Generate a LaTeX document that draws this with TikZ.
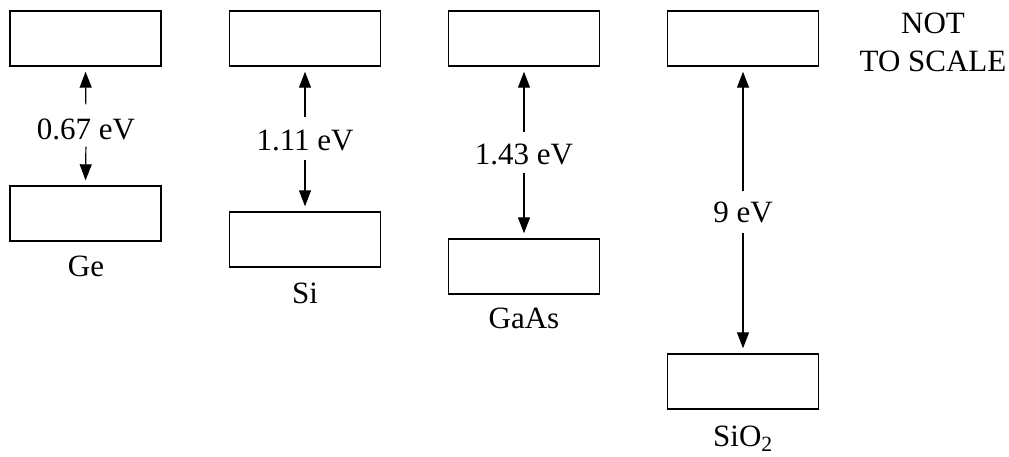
\documentclass[tikz,border=0pt]{standalone}
\usepackage{fontspec}
\setmainfont{Liberation Serif}
\usetikzlibrary{arrows.meta}
\begin{document}
\begin{tikzpicture}[x=1pt,y=-1pt,
  band/.style={draw, line width=1.4pt, minimum width=151pt, minimum height=55pt, inner sep=0pt},
  gaplab/.style={inner sep=0pt, font=\fontsize{31}{38}\selectfont},
  matlab/.style={inner sep=0pt, anchor=base, font=\fontsize{31}{38}\selectfont},
  gaparrow/.style={line width=1.2pt, -{Triangle[width=12pt,length=16pt]}, shorten >=5pt}]
\useasboundingbox (0,0) rectangle (1009,457);
% Ge
\node[band] (geT) at (85.5,38.5) {};
\node[band] (geB) at (85.5,213.5) {};
\node[gaplab] (geL) at (86,129) {0.67 eV};
\node[matlab] (geN) at (86,276) {Ge};
\draw[gaparrow, shorten <=14pt] (geL.north) -- (geT.south);
\draw[gaparrow, shorten <=7pt] (geL.south) -- (geB.north);
% Si
\node[band] (siT) at (305,38.5) {};
\node[band] (siB) at (305,239.5) {};
\node[gaplab] (siL) at (305,141) {1.11 eV};
\node[matlab] (siN) at (305,303) {Si};
\draw[gaparrow, shorten <=13pt] (siL.north) -- (siT.south);
\draw[gaparrow, shorten <=8pt] (siL.south) -- (siB.north);
% GaAs
\node[band] (gaT) at (524,38.5) {};
\node[band] (gaB) at (524,266.5) {};
\node[gaplab] (gaL) at (524,154) {1.43 eV};
\node[matlab] (gaN) at (524,328) {GaAs};
\draw[gaparrow, shorten <=11pt] (gaL.north) -- (gaT.south);
\draw[gaparrow, shorten <=8pt] (gaL.south) -- (gaB.north);
% SiO2
\node[band] (soT) at (743,38.5) {};
\node[band] (soB) at (743,381.5) {};
\node[gaplab] (soL) at (743,212) {9 eV};
\node[matlab] (soN) at (743,446) {SiO\textsubscript{2}};
\draw[gaparrow, shorten <=10pt] (soL.north) -- (soT.south);
\draw[gaparrow, shorten <=10pt] (soL.south) -- (soB.north);
% note
\node[gaplab, align=center, anchor=base] (note) at (933,72) {NOT\\TO SCALE};
\end{tikzpicture}
\end{document}
